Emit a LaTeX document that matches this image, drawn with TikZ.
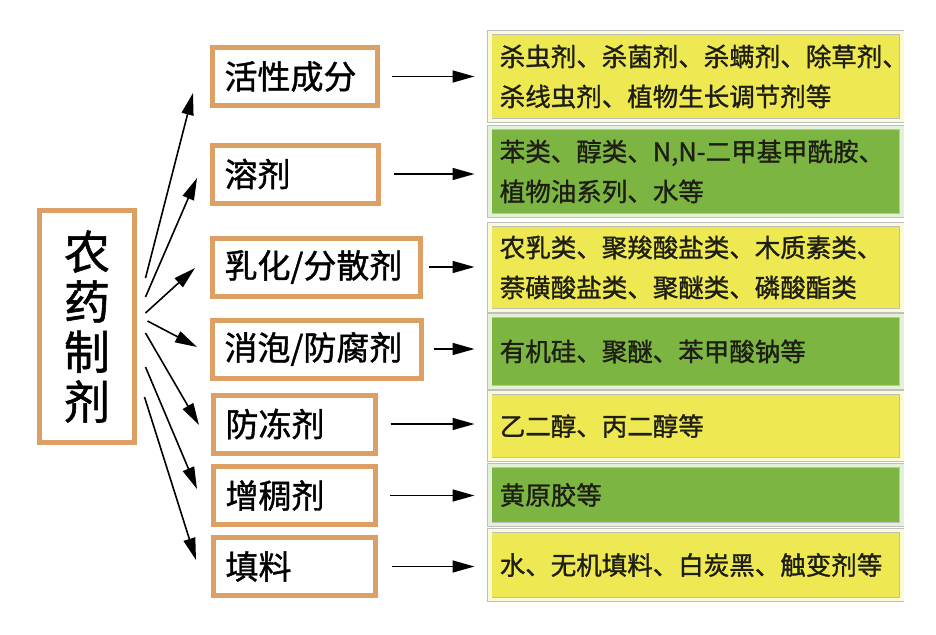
\documentclass[tikz,border=0pt]{standalone}
\usepackage{fontspec}
\setmainfont{Noto Sans CJK SC}[FakeBold=1.2]
\usetikzlibrary{arrows.meta,calc}
\definecolor{tan}{RGB}{220,160,100}
\definecolor{ylw}{RGB}{238,233,82}
\definecolor{grn}{RGB}{124,181,66}
\definecolor{darktxt}{RGB}{30,30,20}

\begin{document}
\begin{tikzpicture}[x=1pt,y=-1pt]
   \tikzstyle{every node}=[inner sep=0pt]
   \tikzstyle{frame}=[draw=tan, line width=5pt, fill=white]
   \tikzstyle{part}=[frame, anchor=west, minimum height=58pt, inner xsep=12.5pt, align=left, font=\fontsize{33}{36}\selectfont]
   \tikzstyle{info}=[draw=black!25, line width=0.6pt, double distance=3.5pt, text width=392pt, inner xsep=10pt, align=left, anchor=west, font=\fontsize{25.5}{40}\selectfont, text=darktxt]
   \tikzstyle{infoy}=[info, fill=ylw, double=ylw!25]
   \tikzstyle{infog}=[info, fill=grn, double=grn!20]
   \tikzstyle{arr}=[line width=1.6pt, -{Triangle[length=22pt,width=12pt]}]

\fill[white] (0,0) rectangle (936,634);
\useasboundingbox (0,0) rectangle (936,634);

\node[frame, minimum width=95pt, minimum height=232pt, align=center, font=\fontsize{46}{50}\selectfont] (zj) at (87,326.5) {农\\药\\制\\剂};

\node[part, text width=140pt] (c1) at (209.5,76.5) {活性成分};
\node[part, text width=141pt] (c2) at (209.5,174) {溶剂};
\node[part, text width=183pt] (c3) at (209.5,267) {乳化/分散剂};
\node[part, text width=184pt] (c4) at (209.5,349) {消泡/防腐剂};
\node[part, text width=137pt] (c5) at (210.5,424) {防冻剂};
\node[part, text width=137pt] (c6) at (210.5,495.5) {增稠剂};
\node[part, text width=137pt] (c7) at (210.5,566.5) {填料};

\node[infoy, minimum height=88pt] (d1) at (489.5,76.5) {杀虫剂、杀菌剂、杀螨剂、除草剂、\\杀线虫剂、植物生长调节剂等};
\node[infog, minimum height=88pt] (d2) at (489.5,171.5) {苯类、醇类、N,N-二甲基甲酰胺、\\植物油系列、水等};
\node[infoy, minimum height=86pt] (d3) at (489.5,267.5) {农乳类、聚羧酸盐类、木质素类、\\萘磺酸盐类、聚醚类、磷酸酯类};
\node[infog, minimum height=72pt] (d4) at (489.5,351.5) {有机硅、聚醚、苯甲酸钠等};
\node[infoy, minimum height=67pt] (d5) at (489.5,426) {乙二醇、丙二醇等};
\node[infog, minimum height=59pt] (d6) at (489.5,495) {黄原胶等};
\node[infoy, minimum height=69pt] (d7) at (489.5,565) {水、无机填料、白炭黑、触变剂等};

\foreach \i/\sx/\sy/\ex/\ey in {1/8.5/-48.5/-16.5/16.5, 2/8.5/-29.5/-12.5/4, 3/8.5/-13.5/-14.5/1, 4/10.5/-5.5/-12.5/-2, 5/8.5/6.5/-11.5/1, 6/8.5/40.5/-13.5/-6.5, 7/7.5/70.5/-14.5/-6.5}
   \draw[arr] ($(zj.east)+(\sx,\sy)$) -- ($(c\i.west)+(\ex,\ey)$);

\foreach \i/\s in {1/12,2/13,3/6,4/10,5/13,6/12,7/14}
   \draw[arr] ($(c\i.east)+(\s,0)$) -- ($(c\i.east -| d\i.west)+(-15,0)$);

\end{tikzpicture}
\end{document}
